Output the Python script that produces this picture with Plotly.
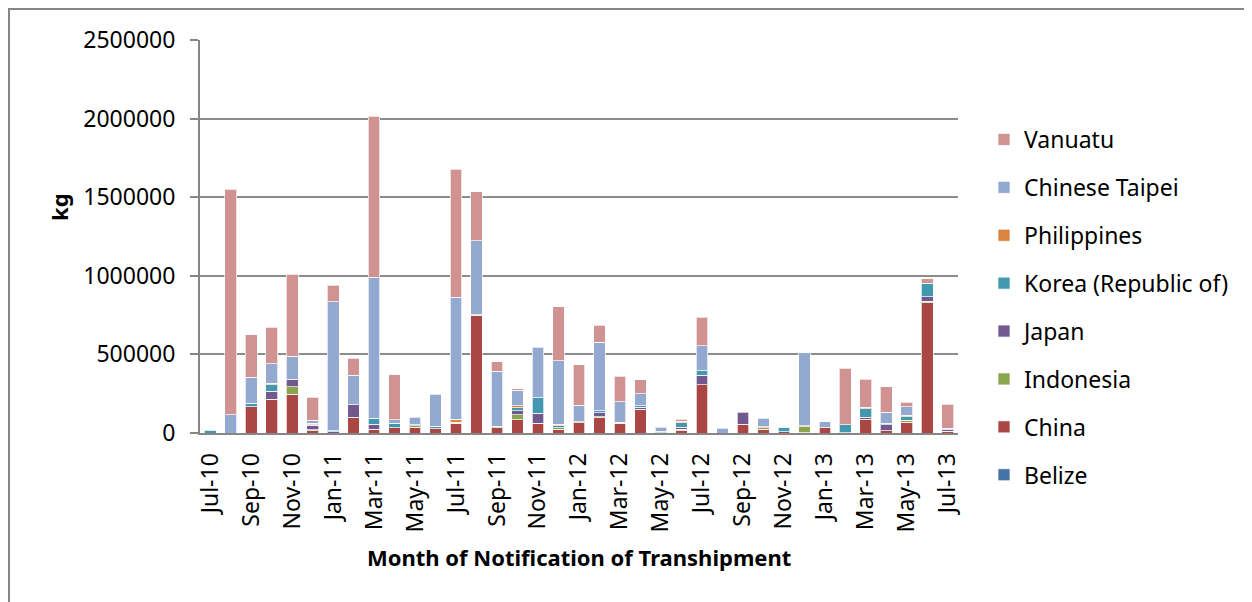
import plotly.graph_objects as go

months = ["Jul-10", "Aug-10", "Sep-10", "Oct-10", "Nov-10", "Dec-10",
          "Jan-11", "Feb-11", "Mar-11", "Apr-11", "May-11", "Jun-11",
          "Jul-11", "Aug-11", "Sep-11", "Oct-11", "Nov-11", "Dec-11",
          "Jan-12", "Feb-12", "Mar-12", "Apr-12", "May-12", "Jun-12",
          "Jul-12", "Aug-12", "Sep-12", "Oct-12", "Nov-12", "Dec-12",
          "Jan-13", "Feb-13", "Mar-13", "Apr-13", "May-13", "Jun-13", "Jul-13"]

belize = [0] * 37
china = [0, 0, 167000, 214000, 248000, 15000,
         0, 100000, 24000, 34000, 36000, 28000,
         62000, 748000, 34000, 83000, 62000, 25000,
         65000, 97000, 62000, 150000, 2000, 15000,
         307000, 0, 55000, 25000, 8000, 3000,
         34000, 3000, 89000, 15000, 68000, 829000, 12000]
indonesia = [0, 0, 0, 0, 47000, 5000,
             0, 0, 0, 0, 10000, 0,
             8000, 4000, 10000, 32000, 0, 10000,
             8000, 5000, 0, 0, 0, 10000,
             0, 0, 0, 10000, 0, 37000,
             0, 0, 0, 0, 14000, 8000, 0]
japan = [0, 0, 0, 51000, 46000, 28000,
         8000, 80000, 31000, 0, 0, 0,
         0, 0, 0, 27000, 63000, 0,
         0, 27000, 0, 13000, 0, 13000,
         60000, 0, 77000, 0, 0, 0,
         0, 0, 11000, 39000, 0, 30000, 8000]
korea = [13000, 0, 22000, 42000, 0, 5000,
         7000, 0, 38000, 28000, 5000, 14000,
         0, 0, 0, 19000, 100000, 12000,
         0, 12000, 0, 10000, 10000, 28000,
         30000, 0, 0, 0, 28000, 0,
         0, 48000, 53000, 8000, 21000, 85000, 0]
philippines = [0, 0, 0, 9000, 0, 8000,
               0, 0, 0, 0, 0, 0,
               17000, 0, 0, 13000, 0, 8000,
               0, 0, 8000, 0, 0, 5000,
               0, 0, 0, 5000, 0, 5000,
               0, 0, 8000, 0, 10000, 0, 0]
chinese_taipei = [5000, 115000, 165000, 123000, 147000, 20000,
                  820000, 187000, 899000, 21000, 50000, 206000,
                  776000, 471000, 350000, 97000, 320000, 405000,
                  103000, 435000, 129000, 77000, 20000, 5000,
                  159000, 30000, 0, 55000, 4000, 467000,
                  38000, 0, 3000, 70000, 53000, 0, 10000]
vanuatu = [0, 1435000, 271000, 233000, 523000, 148000,
           104000, 110000, 1023000, 288000, 0, 0,
           816000, 312000, 60000, 10000, 0, 344000,
           257000, 108000, 161000, 89000, 5000, 12000,
           180000, 0, 0, 0, 0, 0,
           0, 362000, 177000, 163000, 29000, 28000, 154000]

series_names = ["Belize", "China", "Indonesia", "Japan", "Korea (Republic of)",
                "Philippines", "Chinese Taipei", "Vanuatu"]
series_values = [belize, china, indonesia, japan, korea, philippines,
                 chinese_taipei, vanuatu]
series_colors = ["#4572A7", "#AA4643", "#89A54E", "#71588F", "#4198AF",
                 "#DB843D", "#93A9CF", "#D19392"]

y_ticks = [0, 500000, 1000000, 1500000, 2000000, 2500000]

FONT = "Noto Sans"

fig = go.Figure()
n = len(series_names)
for i, (name, vals, col) in enumerate(zip(series_names, series_values, series_colors)):
    fig.add_trace(go.Bar(
        x=months, y=[v if v else None for v in vals], name=name,
        legendgroup=name, legendrank=n - i,
        marker=dict(color=col, line=dict(color="rgba(255,255,255,0.7)", width=1)),
    ))

# page is offset by the 8px body margin; coordinates below are figure coords
OFF = 8
W, H = 1252 - OFF, 602 - OFF
L, R, T, B = 200 - OFF, 958 - OFF, 40 - OFF, 433 - OFF
pw, ph = R - L, B - T

def px(x):  # page x -> paper
    return (x - OFF - L) / pw

def py(y):  # page y -> paper
    return (B - (y - OFF)) / ph

fig.update_layout(
    width=W, height=H,
    margin=dict(l=L, r=W - R, t=T, b=H - B, autoexpand=False),
    barmode="stack", bargap=0.43,
    paper_bgcolor="white", plot_bgcolor="white",
    font=dict(family=FONT, color="black", size=22),
    showlegend=True,
    legend=dict(
        x=px(984), y=py(118), xanchor="left", yanchor="top",
        traceorder="grouped", tracegroupgap=15,
        font=dict(family=FONT, size=23, color="black"),
        bgcolor="rgba(0,0,0,0)",
    ),
    xaxis=dict(
        type="category", categoryorder="array", categoryarray=months,
        tickmode="array", tickvals=months[::2], ticktext=months[::2],
        tickangle=-90, showgrid=False, showline=True, linecolor="#868686",
        linewidth=2, ticks="", ticklabelstandoff=9,
        tickfont=dict(family=FONT, size=23, color="black"),
        range=[-0.5, len(months) - 0.5],
    ),
    yaxis=dict(
        range=[0, 2500000], tickmode="array", tickvals=y_ticks,
        ticktext=[str(v) for v in y_ticks],
        showgrid=True, gridcolor="#8c8c8c", gridwidth=2,
        showline=True, linecolor="#868686", linewidth=2,
        ticks="outside", ticklen=8, tickcolor="#868686", tickwidth=1.5,
        ticklabelstandoff=10, zeroline=False,
        tickfont=dict(family=FONT, size=23, color="black"),
    ),
    annotations=[
        dict(text="<b>Month of Notification of Transhipment</b>", xref="paper", yref="paper",
             x=0.5, y=py(557), xanchor="center", yanchor="middle", showarrow=False,
             font=dict(family=FONT, size=22, color="black")),
        dict(text="<b>kg</b>", xref="paper", yref="paper", textangle=-90,
             x=px(59), y=py(207), xanchor="center", yanchor="middle", showarrow=False,
             font=dict(family=FONT, size=22, color="black")),
    ],
    shapes=[
        dict(type="rect", xref="paper", yref="paper",
             x0=px(OFF + 1), x1=px(1245), y0=py(660), y1=py(OFF + 1),
             line=dict(color="#868686", width=2), fillcolor="rgba(0,0,0,0)", layer="below"),
    ],
)

try:
    fig.update_layout(legend_maxheight=1)
except Exception:
    pass

fig.write_html("out.html")
